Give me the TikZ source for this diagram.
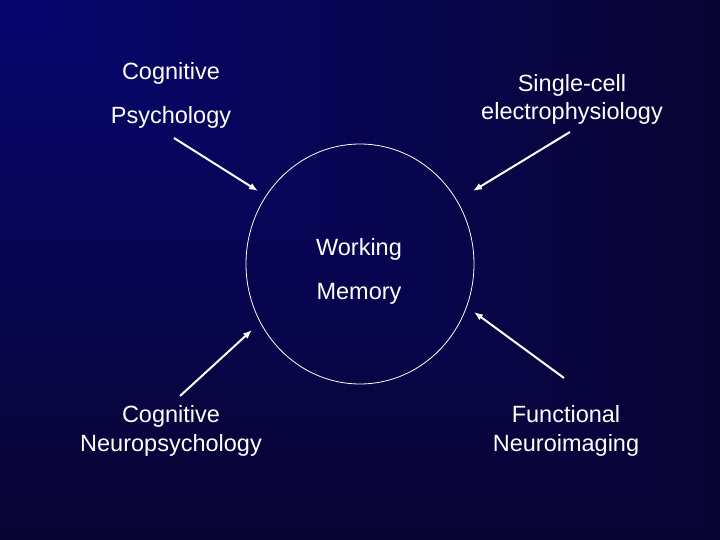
\documentclass[tikz,border=0pt]{standalone}
\usepackage{fontspec}
\setmainfont{Liberation Sans}
\usepackage{tikz}
\usetikzlibrary{arrows,arrows.meta}
\usetikzlibrary{positioning}

\definecolor{hellblau}{RGB}{6,6,112}
\definecolor{dunkelblau}{RGB}{8,4,50}

\begin{document}
\begin{tikzpicture}[%
x={(1pt,0pt)},
y={(0pt,-1pt)},
beschriftung/.style={text=white, font=\fontsize{23.5}{28.7}\selectfont, align=center, anchor=base, inner sep=0pt},
pfeil/.style={draw=white, line width=2pt, -{Latex[length=9pt,width=7pt]}},
]

%Hintergrund
\useasboundingbox (0,0) rectangle (720,540);
\foreach \i [evaluate=\i as \t using 1-\i/60, evaluate=\i as \p using \i*100/60] in {0,...,59}
  \fill[hellblau!\p!dunkelblau] (0,0) rectangle ({720*\t},{540*\t});

%Kreis
\node[draw=white, line width=0.8pt, circle, inner sep=0pt, minimum size=228pt, yscale=240/228] (kreis) at (360,264) {};

%Texte
\node[beschriftung] (kogpsy) at (171,124) {Cognitive\\[15.3pt]Psychology};
\node[beschriftung] (zelle) at (572,120) {Single-cell\\electrophysiology};
\node[beschriftung] (wm) at (359,299.3) {Working\\[15.3pt]Memory};
\node[beschriftung] (kogneuro) at (171,451) {Cognitive\\Neuropsychology};
\node[beschriftung] (bildgebung) at (566,451) {Functional\\Neuroimaging};

%Pfeile
\coordinate (kogpsyA) at (174,138);
\coordinate (kogpsyB) at (258,191);
\coordinate (zelleA) at (570,132);
\coordinate (zelleB) at (473,191);
\coordinate (kogneuroA) at (180,396);
\coordinate (kogneuroB) at (252,330);
\coordinate (bildgebungA) at (564,378);
\coordinate (bildgebungB) at (474,312);

\draw[pfeil] (kogpsyA) -- (kogpsyB);
\draw[pfeil] (zelleA) -- (zelleB);
\draw[pfeil] (kogneuroA) -- (kogneuroB);
\draw[pfeil] (bildgebungA) -- (bildgebungB);

\end{tikzpicture}
\end{document}
